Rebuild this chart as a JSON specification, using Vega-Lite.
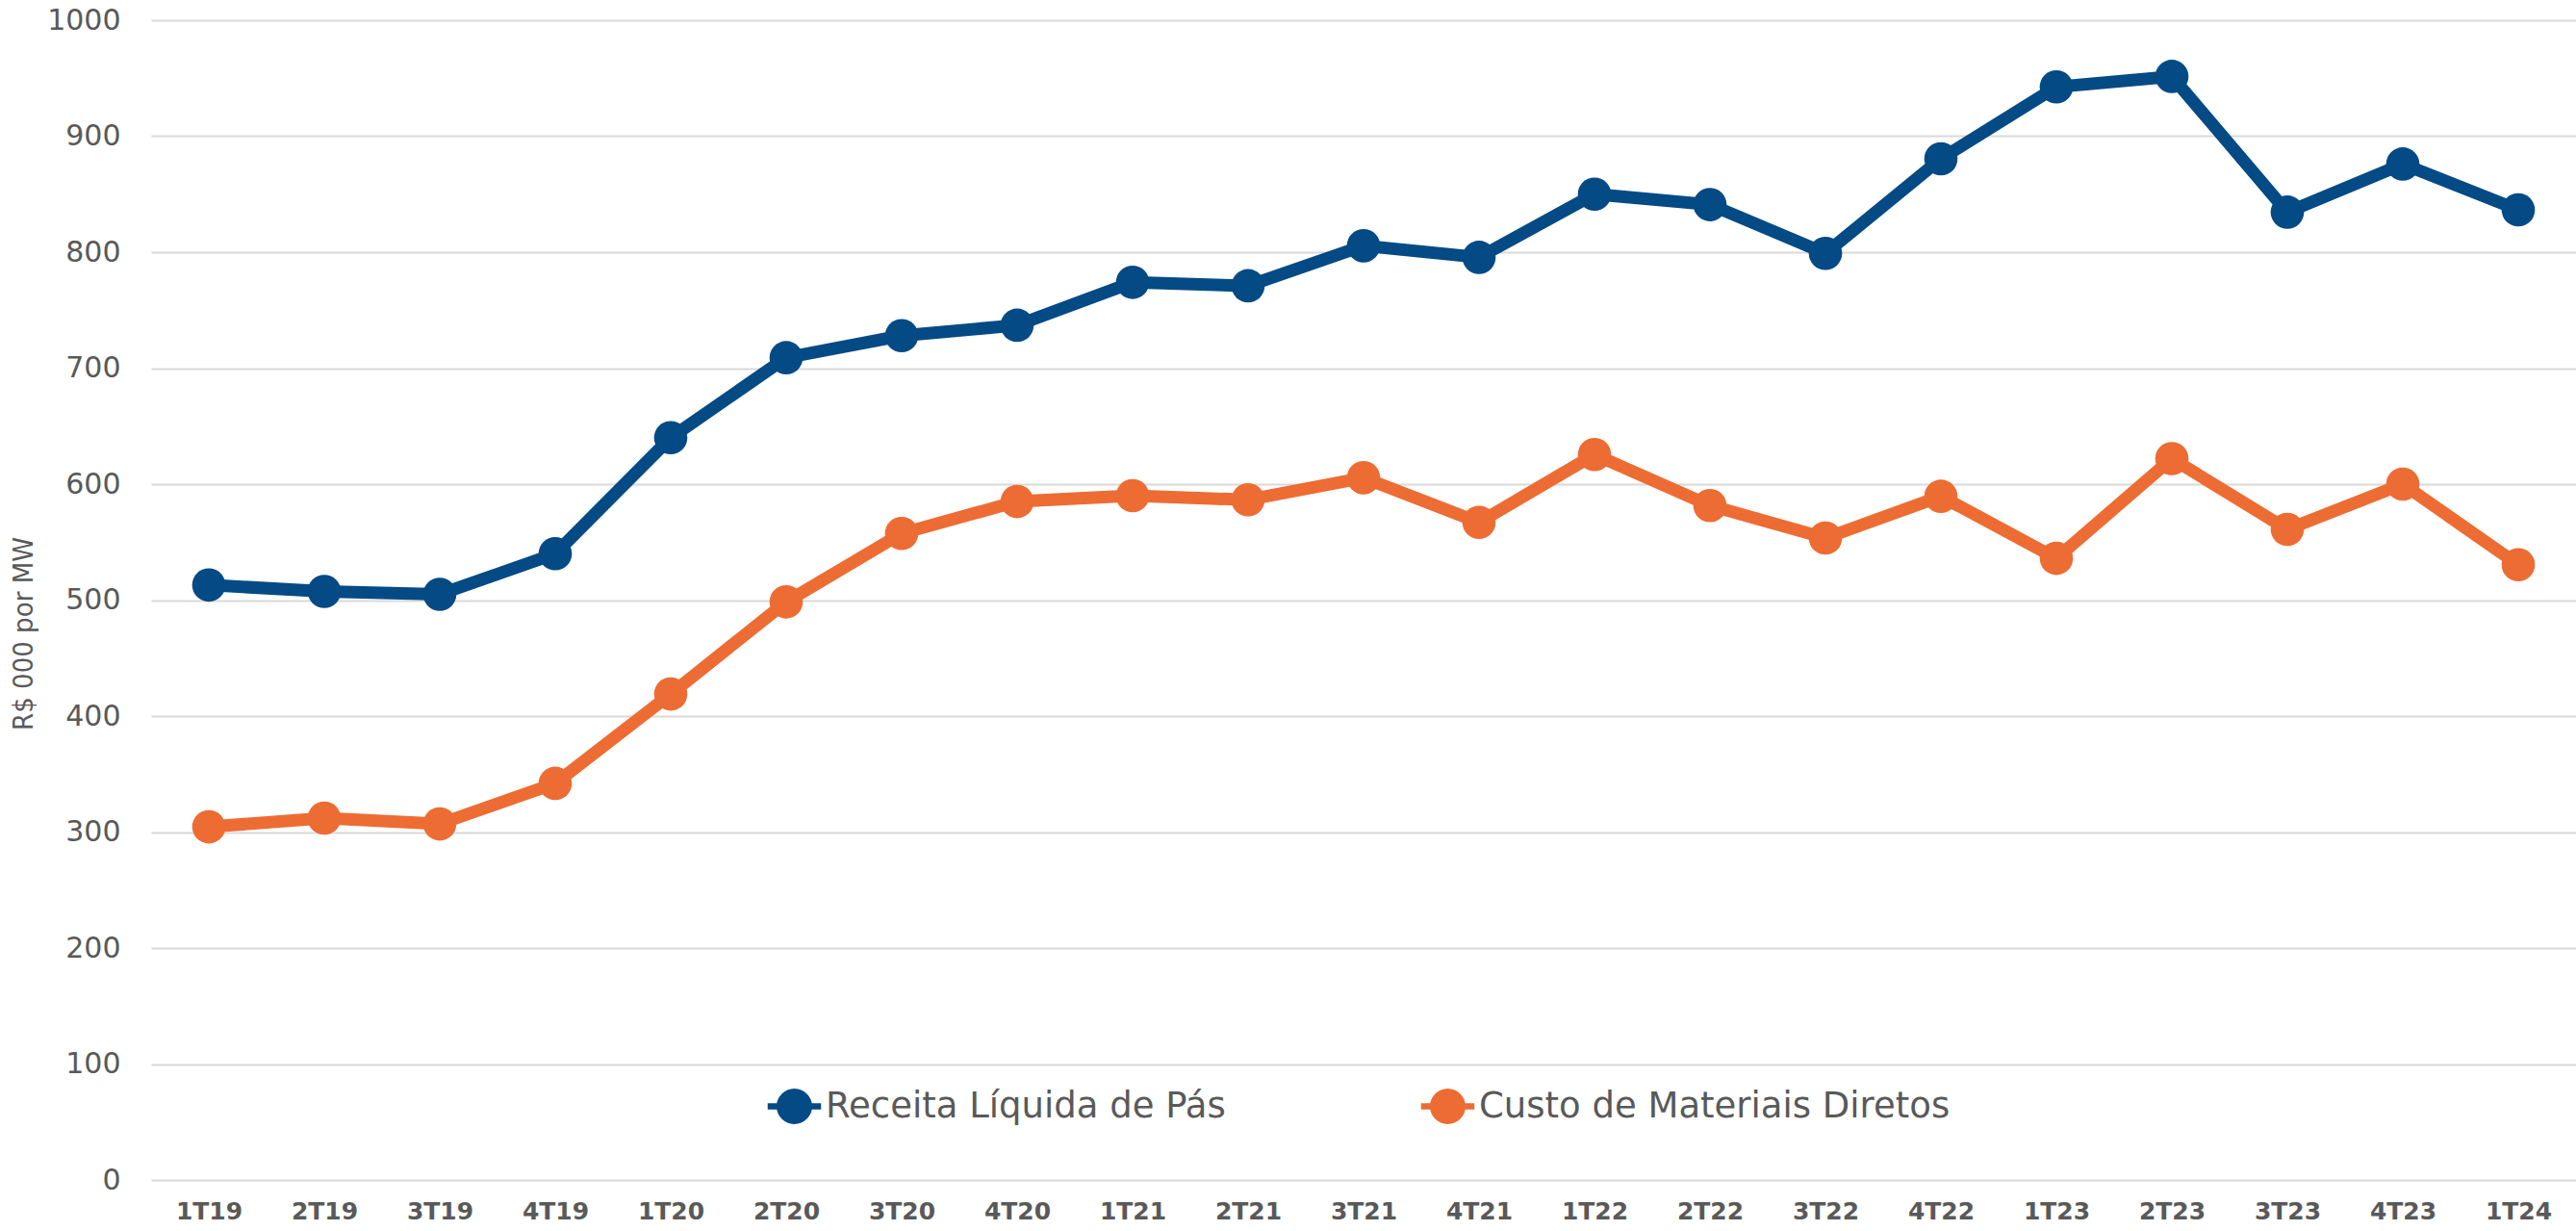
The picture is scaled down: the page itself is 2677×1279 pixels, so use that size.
{
  "$schema": "https://vega.github.io/schema/vega-lite/v6.json",
  "autosize": {"type": "none"},
  "padding": {"left": 157, "top": 21, "right": 0, "bottom": 53},
  "width": 2520,
  "height": 1205,
  "background": "white",
  "config": {
    "view": {"stroke": null},
    "axis": {"gridColor": "#d9d9d9", "gridWidth": 2, "domain": false, "ticks": false}
  },
  "data": {
    "values": [
      {"q": "1T19", "s": "Receita Líquida de Pás", "v": 513},
      {"q": "2T19", "s": "Receita Líquida de Pás", "v": 507.5},
      {"q": "3T19", "s": "Receita Líquida de Pás", "v": 505},
      {"q": "4T19", "s": "Receita Líquida de Pás", "v": 540},
      {"q": "1T20", "s": "Receita Líquida de Pás", "v": 640},
      {"q": "2T20", "s": "Receita Líquida de Pás", "v": 709},
      {"q": "3T20", "s": "Receita Líquida de Pás", "v": 728},
      {"q": "4T20", "s": "Receita Líquida de Pás", "v": 737},
      {"q": "1T21", "s": "Receita Líquida de Pás", "v": 774},
      {"q": "2T21", "s": "Receita Líquida de Pás", "v": 771},
      {"q": "3T21", "s": "Receita Líquida de Pás", "v": 805.5},
      {"q": "4T21", "s": "Receita Líquida de Pás", "v": 795.5},
      {"q": "1T22", "s": "Receita Líquida de Pás", "v": 850},
      {"q": "2T22", "s": "Receita Líquida de Pás", "v": 841},
      {"q": "3T22", "s": "Receita Líquida de Pás", "v": 799},
      {"q": "4T22", "s": "Receita Líquida de Pás", "v": 880.5},
      {"q": "1T23", "s": "Receita Líquida de Pás", "v": 942.5},
      {"q": "2T23", "s": "Receita Líquida de Pás", "v": 951.5},
      {"q": "3T23", "s": "Receita Líquida de Pás", "v": 834.5},
      {"q": "4T23", "s": "Receita Líquida de Pás", "v": 876},
      {"q": "1T24", "s": "Receita Líquida de Pás", "v": 836.5},
      {"q": "1T19", "s": "Custo de Materiais Diretos", "v": 304.5},
      {"q": "2T19", "s": "Custo de Materiais Diretos", "v": 312},
      {"q": "3T19", "s": "Custo de Materiais Diretos", "v": 307},
      {"q": "4T19", "s": "Custo de Materiais Diretos", "v": 342},
      {"q": "1T20", "s": "Custo de Materiais Diretos", "v": 419},
      {"q": "2T20", "s": "Custo de Materiais Diretos", "v": 498.5},
      {"q": "3T20", "s": "Custo de Materiais Diretos", "v": 557.5},
      {"q": "4T20", "s": "Custo de Materiais Diretos", "v": 585},
      {"q": "1T21", "s": "Custo de Materiais Diretos", "v": 590},
      {"q": "2T21", "s": "Custo de Materiais Diretos", "v": 586.5},
      {"q": "3T21", "s": "Custo de Materiais Diretos", "v": 605.5},
      {"q": "4T21", "s": "Custo de Materiais Diretos", "v": 567},
      {"q": "1T22", "s": "Custo de Materiais Diretos", "v": 625.5},
      {"q": "2T22", "s": "Custo de Materiais Diretos", "v": 581.5},
      {"q": "3T22", "s": "Custo de Materiais Diretos", "v": 553.5},
      {"q": "4T22", "s": "Custo de Materiais Diretos", "v": 589.5},
      {"q": "1T23", "s": "Custo de Materiais Diretos", "v": 536},
      {"q": "2T23", "s": "Custo de Materiais Diretos", "v": 622},
      {"q": "3T23", "s": "Custo de Materiais Diretos", "v": 561},
      {"q": "4T23", "s": "Custo de Materiais Diretos", "v": 600},
      {"q": "1T24", "s": "Custo de Materiais Diretos", "v": 530.5}
    ]
  },
  "encoding": {
    "x": {
      "field": "q", "type": "ordinal", "sort": null,
      "scale": {"type": "point", "padding": 0.5},
      "axis": {
        "title": null, "labelAngle": 0, "grid": false,
        "labelFont": "DejaVu Sans", "labelFontWeight": "bold",
        "labelFontSize": 25, "labelColor": "#595959", "labelPadding": 20
      }
    },
    "y": {
      "field": "v", "type": "quantitative",
      "scale": {"domain": [0, 1000], "nice": false},
      "axis": {
        "values": [0, 100, 200, 300, 400, 500, 600, 700, 800, 900, 1000],
        "format": "d",
        "labelFont": "DejaVu Sans", "labelFontSize": 30, "labelColor": "#595959",
        "labelPadding": 32,
        "title": "R$ 000 por MW", "titleFont": "DejaVu Sans Condensed, DejaVu Sans", "titleFontSize": 29,
        "titleFontWeight": "normal", "titleColor": "#595959", "titlePadding": 9,
        "titleY": 637
      }
    },
    "color": {
      "field": "s", "type": "nominal",
      "scale": {"domain": ["Receita Líquida de Pás", "Custo de Materiais Diretos"], "range": ["#044a84", "#ed6c33"]},
      "legend": {
        "title": null, "orient": "none", "legendX": 650, "legendY": 1110,
        "direction": "horizontal", "columns": 2, "columnPadding": 202,
        "padding": 0,
        "symbolType": "M-1.5,-0.17L-0.9,-0.17L-0.9,0.17L-1.5,0.17Z M0.9,-0.17L1.5,-0.17L1.5,0.17L0.9,0.17Z M1,0A1,1,0,1,1,-1,0A1,1,0,1,1,1,0Z",
        "symbolSize": 1369, "symbolStrokeWidth": 0, "symbolOpacity": 1,
        "labelFont": "DejaVu Sans", "labelFontSize": 37, "labelColor": "#595959",
        "labelOffset": 14, "labelLimit": 1000,
        "encode": {"symbols": {"update": {"fill": {"scale": "color", "field": "value"}, "strokeWidth": {"value": 0}}}}
      }
    }
  },
  "layer": [
    {"mark": {"type": "line", "strokeWidth": 13}},
    {"mark": {"type": "point", "filled": true, "size": 1200, "opacity": 1, "shape": "circle"}}
  ]
}
